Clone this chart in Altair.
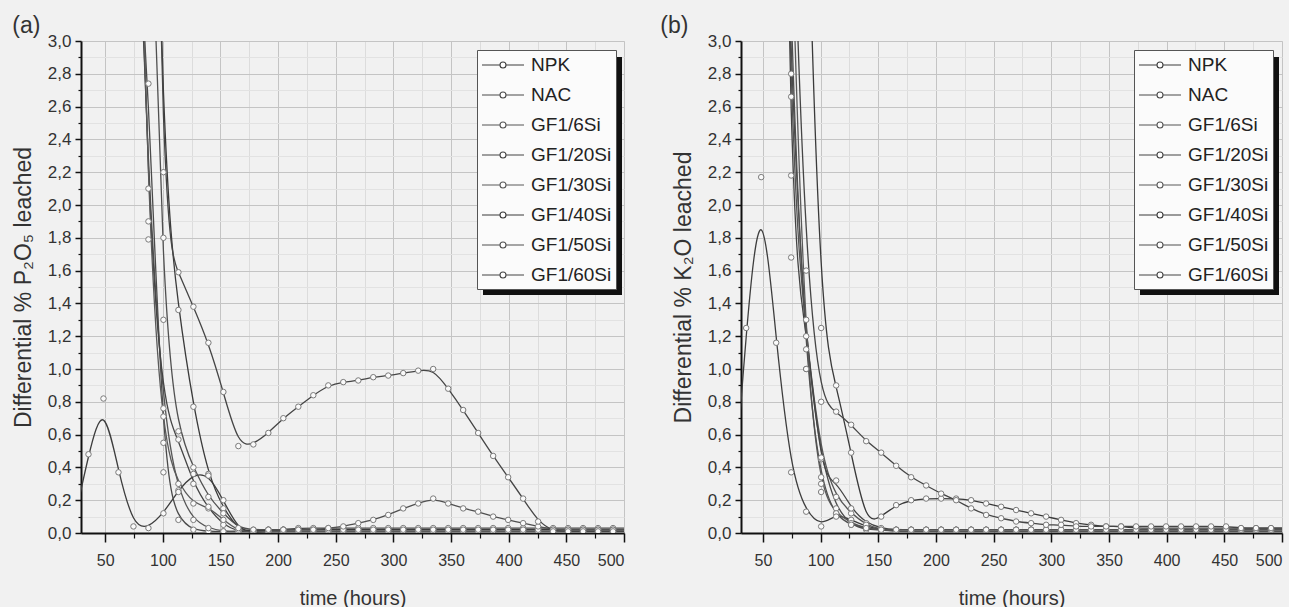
import altair as alt
import pandas as pd

# ---------------- data ----------------
hours = [22.5, 35.5, 48.5, 61.5, 74.5, 87.5, 100.5, 113.5, 126.5, 139.5,
         152.5, 165.5, 178.5, 191.5, 204.5, 217.5, 230.5, 243.5, 256.5, 269.5,
         282.5, 295.5, 308.5, 321.5, 334.5, 347.5, 360.5, 373.5, 386.5, 399.5,
         412.5, 425.5, 438.5, 451.5, 464.5, 477.5, 490.5, 503.5]

series_names = ["NPK", "NAC", "GF1/6Si", "GF1/20Si", "GF1/30Si", "GF1/40Si", "GF1/50Si", "GF1/60Si"]

# panel (a): differential % P2O5 leached
p2o5_npk = [0.05, 0.48, 0.82, 0.37, 0.04, 0.03, 0.12, 0.26, 0.36, 0.36,
            0.20, 0.02, 0.00, 0.01, 0.01, 0.01, 0.01, 0.01, 0.01, 0.01,
            0.01, 0.01, 0.01, 0.01, 0.01, 0.01, 0.01, 0.01, 0.01, 0.01,
            0.01, 0.01, 0.01, 0.01, 0.01, 0.01, 0.01, 0.01]
p2o5_nac = [None, None, None, 6.0, 4.2, 2.74, 0.37, 0.08, 0.02, 0.01,
            0.01, 0.01, 0.02, 0.02, 0.02, 0.02, 0.02, 0.02, 0.02, 0.02,
            0.02, 0.02, 0.02, 0.02, 0.02, 0.02, 0.02, 0.02, 0.02, 0.02,
            0.02, 0.02, 0.02, 0.02, 0.02, 0.02, 0.02, 0.02]
p2o5_gf6 = [None, None, None, 6.5, 4.6, 2.10, 0.71, 0.25, 0.08, 0.03,
            0.01, 0.01, 0.01, 0.01, 0.02, 0.02, 0.02, 0.02, 0.02, 0.02,
            0.02, 0.02, 0.02, 0.02, 0.02, 0.02, 0.02, 0.02, 0.02, 0.02,
            0.02, 0.02, 0.02, 0.02, 0.02, 0.02, 0.02, 0.02]
p2o5_gf20 = [None, None, None, 7.0, 5.0, 1.90, 0.76, 0.57, 0.30, 0.15,
             0.05, 0.01, 0.01, 0.02, 0.02, 0.03, 0.03, 0.03, 0.03, 0.03,
             0.03, 0.03, 0.03, 0.03, 0.03, 0.03, 0.03, 0.03, 0.03, 0.03,
             0.03, 0.03, 0.03, 0.03, 0.03, 0.03, 0.03, 0.03]
p2o5_gf30 = [None, None, None, 7.5, 5.5, 1.79, 0.55, 0.30, 0.18, 0.16,
             0.08, 0.01, 0.01, 0.01, 0.01, 0.01, 0.01, 0.01, 0.01, 0.01,
             0.01, 0.01, 0.01, 0.01, 0.01, 0.01, 0.01, 0.01, 0.01, 0.01,
             0.01, 0.01, 0.01, 0.01, 0.01, 0.01, 0.01, 0.01]
p2o5_gf40 = [None, None, None, None, 8.0, 6.0, 2.2, 1.36, 0.77, 0.35,
             0.15, 0.02, 0.01, 0.02, 0.02, 0.02, 0.02, 0.02, 0.02, 0.02,
             0.02, 0.02, 0.02, 0.02, 0.02, 0.02, 0.02, 0.02, 0.02, 0.02,
             0.02, 0.02, 0.02, 0.02, 0.02, 0.02, 0.02, 0.02]
p2o5_gf50 = [None, None, None, None, 7.0, 4.5, 1.3, 0.62, 0.40, 0.22,
             0.12, 0.03, 0.02, 0.02, 0.02, 0.02, 0.02, 0.03, 0.04, 0.06,
             0.08, 0.11, 0.15, 0.18, 0.21, 0.18, 0.15, 0.13, 0.10, 0.08,
             0.06, 0.04, 0.02, 0.02, 0.02, 0.02, 0.02, 0.02]
p2o5_gf60 = [None, None, None, None, 9.0, 6.5, 1.80, 1.59, 1.38, 1.16,
             0.86, 0.53, 0.54, 0.61, 0.70, 0.77, 0.84, 0.90, 0.92, 0.93,
             0.95, 0.96, 0.975, 0.99, 1.00, 0.88, 0.75, 0.61, 0.47, 0.34,
             0.21, 0.07, 0.01, 0.01, 0.01, 0.01, 0.01, 0.01]

# panel (b): differential % K2O leached
k2o_npk = [0.00, 1.25, 2.17, 1.16, 0.37, 0.13, 0.04, 0.12, 0.08, 0.04,
           0.02, 0.02, 0.02, 0.02, 0.02, 0.02, 0.02, 0.02, 0.02, 0.02,
           0.02, 0.02, 0.02, 0.02, 0.02, 0.02, 0.02, 0.02, 0.02, 0.02,
           0.02, 0.02, 0.02, 0.02, 0.02, 0.02, 0.02, 0.02]
k2o_nac = [None, None, 8.0, 6.0, 2.66, 1.12, 0.45, 0.15, 0.05, 0.02,
           0.02, 0.01, 0.01, 0.01, 0.01, 0.01, 0.01, 0.01, 0.01, 0.01,
           0.01, 0.01, 0.01, 0.01, 0.01, 0.01, 0.01, 0.01, 0.01, 0.01,
           0.01, 0.01, 0.01, 0.01, 0.01, 0.01, 0.01, 0.01]
k2o_gf6 = [None, None, None, 7.0, 2.18, 1.2, 0.46, 0.22, 0.12, 0.05,
           0.02, 0.01, 0.01, 0.01, 0.01, 0.01, 0.01, 0.01, 0.01, 0.01,
           0.01, 0.01, 0.01, 0.01, 0.01, 0.01, 0.01, 0.01, 0.01, 0.01,
           0.01, 0.01, 0.01, 0.01, 0.01, 0.01, 0.01, 0.01]
k2o_gf20 = [None, None, None, 7.5, 1.68, 1.3, 0.34, 0.32, 0.15, 0.06,
            0.03, 0.02, 0.02, 0.02, 0.02, 0.02, 0.02, 0.02, 0.02, 0.02,
            0.02, 0.02, 0.02, 0.02, 0.02, 0.02, 0.02, 0.02, 0.02, 0.02,
            0.02, 0.02, 0.02, 0.02, 0.02, 0.02, 0.02, 0.02]
k2o_gf30 = [None, None, None, 8.0, 3.5, 1.0, 0.25, 0.12, 0.06, 0.03,
            0.02, 0.02, 0.02, 0.02, 0.02, 0.02, 0.02, 0.02, 0.02, 0.02,
            0.02, 0.02, 0.02, 0.02, 0.02, 0.02, 0.02, 0.02, 0.02, 0.02,
            0.02, 0.02, 0.02, 0.02, 0.02, 0.02, 0.02, 0.02]
k2o_gf40 = [None, None, None, None, 9.0, 4.0, 1.25, 0.90, 0.49, 0.05,
            0.10, 0.17, 0.20, 0.21, 0.21, 0.21, 0.20, 0.18, 0.16, 0.14,
            0.12, 0.10, 0.08, 0.06, 0.05, 0.04, 0.04, 0.03, 0.03, 0.03,
            0.03, 0.03, 0.03, 0.03, 0.03, 0.03, 0.03, 0.03]
k2o_gf50 = [None, None, None, 7.0, 2.8, 1.0, 0.30, 0.10, 0.05, 0.03,
            0.02, 0.02, 0.02, 0.02, 0.02, 0.02, 0.02, 0.02, 0.02, 0.02,
            0.02, 0.02, 0.02, 0.02, 0.02, 0.02, 0.02, 0.02, 0.02, 0.02,
            0.02, 0.02, 0.02, 0.02, 0.02, 0.02, 0.02, 0.02]
k2o_gf60 = [None, None, None, 9.0, 4.0, 1.6, 0.80, 0.74, 0.66, 0.56,
            0.49, 0.41, 0.34, 0.29, 0.24, 0.20, 0.15, 0.11, 0.09, 0.07,
            0.06, 0.05, 0.05, 0.04, 0.04, 0.04, 0.04, 0.04, 0.04, 0.04,
            0.04, 0.04, 0.04, 0.04, 0.03, 0.03, 0.03, 0.03]

x_major = [50, 100, 150, 200, 250, 300, 350, 400, 450, 500]
x_minor = [75, 125, 175, 225, 275, 325, 375, 425, 475]
y_major = [0.0, 0.2, 0.4, 0.6, 0.8, 1.0, 1.2, 1.4, 1.6, 1.8, 2.0, 2.2, 2.4, 2.6, 2.8, 3.0]
y_minor = [0.1, 0.3, 0.5, 0.7, 0.9, 1.1, 1.3, 1.5, 1.7, 1.9, 2.1, 2.3, 2.5, 2.7, 2.9]

# ---------------- styling ----------------
FONT = "Liberation Sans"
GRAYS = ["#3d3d3d", "#4a4a4a", "#555555", "#444444", "#5a5a5a", "#3a3a3a", "#505050", "#454545"]
# legend symbol: a line with a small open circle in the middle (unit = 10 px)
SYM = "M0,0L1.8,0M2.4,0L4.2,0M2.4,0A0.3,0.3,0,1,1,1.8,0A0.3,0.3,0,1,1,2.4,0Z"
PH = 492


def to_frame(lists):
    rows = []
    for name, vals in zip(series_names, lists):
        assert len(vals) == len(hours), name
        for t, v in zip(hours, vals):
            if v is not None:
                rows.append({"series": name, "time": t, "value": v})
    return pd.DataFrame(rows)


def panel(df, xmin, ytitle, tag, pw, lx, tag_dx):
    xs = alt.Scale(domain=[xmin, 500], nice=False, zero=False)
    ys = alt.Scale(domain=[0, 3], nice=False, zero=False)
    color = alt.Color(
        "series:N",
        sort=series_names,
        scale=alt.Scale(domain=series_names, range=GRAYS),
        legend=alt.Legend(
            title=None, orient="none", legendX=lx, legendY=9,
            symbolType=SYM, symbolSize=400, symbolStrokeWidth=1.1, symbolOffset=-10,
            symbolFillColor="#ffffff", symbolStrokeColor="#555555",
            labelFont=FONT, labelFontSize=19, labelColor="#222222",
            labelOffset=38, labelLimit=200, rowPadding=9,
            fillColor="#fbfbfb", strokeColor="#555555", padding=4,
        ),
    )
    lines = alt.Chart(df).mark_line(interpolate="basis", clip=True, strokeWidth=1.3).encode(
        x=alt.X("time:Q", scale=xs, axis=alt.Axis(
            orient="bottom", values=x_major, title="time (hours)", format="d",
            grid=True, gridColor="#c4c4c4", gridWidth=1,
            domainColor="#111111", domainWidth=2,
            tickColor="#111111", tickSize=9, tickWidth=1.5,
            labelFont=FONT, labelFontSize=16, labelColor="#333333", labelPadding=10,
            titleFont=FONT, titleFontSize=20, titleFontWeight="normal", titleColor="#333333",
            titlePadding=20,
        )),
        y=alt.Y("value:Q", scale=ys, axis=alt.Axis(
            orient="left", values=y_major, title=ytitle,
            labelExpr="replace(format(datum.value, '.1f'), '.', ',')",
            grid=True, gridColor="#c4c4c4", gridWidth=1,
            domainColor="#111111", domainWidth=2,
            tickColor="#111111", tickSize=6, tickWidth=1.5,
            labelFont=FONT, labelFontSize=17, labelColor="#333333", labelPadding=4,
            titleFont=FONT, titleFontSize=23, titleFontWeight="normal", titleColor="#333333",
            titlePadding=12,
        )),
        color=color,
        detail="series:N",
    )
    pts = alt.Chart(df).mark_point(
        shape="circle", filled=True, fill="#fafafa", stroke="#7a7a7a",
        strokeWidth=1, size=30, opacity=1, clip=True,
    ).encode(
        x=alt.X("time:Q", scale=xs, axis=alt.Axis(
            orient="bottom", values=x_minor, labels=False, domain=False, title=None,
            grid=True, gridColor="#dcdcdc", gridWidth=1,
            tickColor="#111111", tickSize=5, tickWidth=1.2,
        )),
        y=alt.Y("value:Q", scale=ys, axis=alt.Axis(
            orient="left", values=y_minor, labels=False, domain=False, title=None,
            grid=True, gridColor="#e2e2e2", gridWidth=1,
            tickColor="#111111", tickSize=3, tickWidth=1.2,
        )),
        detail="series:N",
    )
    shadow = alt.Chart(pd.DataFrame({"k": [0]})).mark_rect(color="#111111").encode(
        x=alt.value(lx + 6), x2=alt.value(lx + 145), y=alt.value(16), y2=alt.value(254)
    )
    return alt.layer(lines, pts, shadow).resolve_axis(x="independent", y="independent").properties(
        width=pw, height=PH,
        title=alt.TitleParams(tag, anchor="start", frame="bounds", font=FONT, fontSize=23,
                              fontWeight="normal", color="#333333", offset=-6, dx=tag_dx),
    )


left = panel(to_frame([p2o5_npk, p2o5_nac, p2o5_gf6, p2o5_gf20, p2o5_gf30, p2o5_gf40, p2o5_gf50, p2o5_gf60]),
             29, "Differential % P\u2082O\u2085 leached", "(a)", 543, 396, 0)
right = panel(to_frame([k2o_npk, k2o_nac, k2o_gf6, k2o_gf20, k2o_gf30, k2o_gf40, k2o_gf50, k2o_gf60]),
              31, "Differential % K\u2082O leached", "(b)", 541, 393, -12)

chart = alt.hconcat(left, right, spacing=33).resolve_scale(color="independent").resolve_legend(
    color="independent"
).properties(
    padding={"left": 11, "top": 14, "right": 5, "bottom": 5},
    background="#f1f1f1",
).configure_view(
    fill="#f6f6f6", stroke="#222222", strokeWidth=1.5
).configure(font=FONT)

chart.save("out.html", embed_options={"renderer": "svg", "actions": False})
